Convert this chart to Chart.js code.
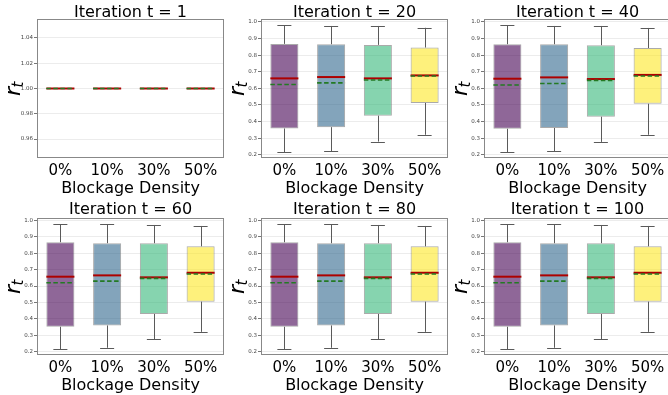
<!DOCTYPE html>
<html><head><meta charset="utf-8">
<script src="https://cdn.jsdelivr.net/npm/chart.js@4.4.1/dist/chart.umd.min.js"></script>
<style>
html,body{margin:0;padding:0;background:#fff;overflow:hidden;width:668px;height:395px;position:relative;}
canvas.cv{position:absolute;}
</style></head><body>
<script>
// ---------- data ----------
const categories = ['0%', '10%', '30%', '50%'];
const iterations = [1, 20, 40, 60, 80, 100];
const xAxisLabel = 'Blockage Density';
// one row per iteration panel, one value per blockage density
const whiskerLow = [
  [1, 1, 1, 1],
  [0.214, 0.222, 0.279, 0.320],
  [0.214, 0.222, 0.277, 0.320],
  [0.215, 0.224, 0.275, 0.321],
  [0.215, 0.224, 0.275, 0.321],
  [0.215, 0.224, 0.275, 0.321]
];
const q1 = [
  [1, 1, 1, 1],
  [0.358, 0.366, 0.435, 0.512],
  [0.356, 0.361, 0.429, 0.507],
  [0.352, 0.360, 0.430, 0.505],
  [0.352, 0.360, 0.430, 0.505],
  [0.352, 0.360, 0.430, 0.505]
];
const median = [
  [1, 1, 1, 1],
  [0.660, 0.668, 0.660, 0.678],
  [0.658, 0.666, 0.656, 0.681],
  [0.657, 0.665, 0.653, 0.681],
  [0.657, 0.665, 0.653, 0.681],
  [0.657, 0.665, 0.653, 0.681]
];
const mean = [
  [1, 1, 1, 1],
  [0.623, 0.633, 0.650, 0.674],
  [0.620, 0.629, 0.648, 0.674],
  [0.620, 0.630, 0.647, 0.673],
  [0.620, 0.630, 0.647, 0.673],
  [0.620, 0.630, 0.647, 0.673]
];
const q3 = [
  [1, 1, 1, 1],
  [0.868, 0.866, 0.862, 0.846],
  [0.866, 0.866, 0.860, 0.843],
  [0.867, 0.861, 0.861, 0.842],
  [0.867, 0.861, 0.861, 0.842],
  [0.867, 0.861, 0.861, 0.842]
];
const whiskerHigh = [
  [1, 1, 1, 1],
  [0.980, 0.976, 0.976, 0.965],
  [0.980, 0.976, 0.976, 0.964],
  [0.976, 0.976, 0.972, 0.966],
  [0.976, 0.976, 0.972, 0.966],
  [0.976, 0.976, 0.972, 0.966]
];
const yTicksFirst = [0.96, 0.98, 1.00, 1.02, 1.04];
const yTicksOther = [0.2, 0.3, 0.4, 0.5, 0.6, 0.7, 0.8, 0.9, 1.0];
const yMin = [0.945, 0.18, 0.18, 0.18, 0.18, 0.18];
const yMax = [1.055, 1.018, 1.018, 1.0145, 1.0145, 1.0145];

// ---------- styles / layout ----------
const boxFill = ['rgba(68,1,84,0.6)', 'rgba(49,104,142,0.6)', 'rgba(53,183,121,0.6)', 'rgba(253,231,37,0.6)'];
const FONT = 'DejaVu Sans';
Chart.defaults.font.family = FONT;
const plotL = [37, 261, 484];
const plotW = 187;
const plotT = [19, 218];
const plotB = [158, 355];
const titleBase = [2.3, 4];   // title baseline offset above plot top, per row
const EXT = 37, TITLE_H = 19, XAX_H = 40;

const boxPlugin = {
  id: 'boxdraw',
  afterDatasetsDraw(chart) {
    const p = chart.options.plugins.boxdraw.panel;
    const ctx = chart.ctx, ys = chart.scales.y;
    const meta = chart.getDatasetMeta(0);
    ctx.save();
    meta.data.forEach((bar, i) => {
      const x = bar.x, w = bar.width;
      const yH = ys.getPixelForValue(whiskerHigh[p][i]);
      const yL = ys.getPixelForValue(whiskerLow[p][i]);
      const y3 = ys.getPixelForValue(q3[p][i]);
      const y1 = ys.getPixelForValue(q1[p][i]);
      const xc = Math.round(x) + 0.5;
      ctx.strokeStyle = '#5a5a5a';
      ctx.lineWidth = 1;
      ctx.setLineDash([]);
      ctx.beginPath();
      if (yH < y3) { ctx.moveTo(xc, y3); ctx.lineTo(xc, yH); ctx.moveTo(x - w / 4, Math.round(yH) + 0.5); ctx.lineTo(x + w / 4, Math.round(yH) + 0.5); }
      if (yL > y1) { ctx.moveTo(xc, y1); ctx.lineTo(xc, yL); ctx.moveTo(x - w / 4, Math.round(yL) + 0.5); ctx.lineTo(x + w / 4, Math.round(yL) + 0.5); }
      ctx.stroke();
      const ym = ys.getPixelForValue(median[p][i]);
      ctx.strokeStyle = '#ad0000';
      ctx.lineWidth = 2;
      ctx.beginPath(); ctx.moveTo(x - w / 2, ym); ctx.lineTo(x + w / 2, ym); ctx.stroke();
      const ya = ys.getPixelForValue(mean[p][i]);
      ctx.strokeStyle = '#237a23';
      ctx.lineWidth = 1.6;
      ctx.setLineDash([4.5, 2.5]);
      ctx.beginPath(); ctx.moveTo(x - w / 2, ya); ctx.lineTo(x + w / 2, ya); ctx.stroke();
    });
    ctx.restore();
  },
  afterDraw(chart) {
    const p = chart.options.plugins.boxdraw.panel;
    const row = Math.floor(p / 3);
    const ctx = chart.ctx, a = chart.chartArea;
    ctx.save();
    ctx.strokeStyle = '#888';
    ctx.lineWidth = 1;
    ctx.strokeRect(Math.round(a.left) + 0.5, Math.round(a.top) + 0.5, Math.round(a.right - a.left) - 1, Math.round(a.bottom - a.top) - 1);
    const cx = (a.left + a.right) / 2;
    ctx.fillStyle = '#000';
    ctx.textAlign = 'center';
    ctx.textBaseline = 'alphabetic';
    // panel title
    ctx.font = '16px "' + FONT + '"';
    ctx.fillText('Iteration t = ' + iterations[p], cx, a.top - titleBase[row]);
    // x axis label
    ctx.fillText(xAxisLabel, cx, a.bottom + 34.7);
    // y axis label r_t
    const cy = (a.top + a.bottom) / 2;
    ctx.translate(19.5, cy);
    ctx.rotate(-Math.PI / 2);
    ctx.font = 'italic 22px "' + FONT + '"';
    const wr = ctx.measureText('r').width;
    ctx.font = 'italic 15px "' + FONT + '"';
    const wt = ctx.measureText('t').width;
    const start = -(wr + wt) / 2;
    ctx.textAlign = 'left';
    ctx.font = 'italic 22px "' + FONT + '"';
    ctx.fillText('r', start, 0);
    ctx.font = 'italic 15px "' + FONT + '"';
    ctx.fillText('t', start + wr - 0.5, 3.5);
    ctx.restore();
  }
};

iterations.forEach((it, p) => {
  const row = Math.floor(p / 3), col = p % 3;
  const cv = document.createElement('canvas');
  cv.className = 'cv';
  const h = (plotB[row] - plotT[row]) + TITLE_H + XAX_H;
  const w = plotW + 2 * EXT;
  cv.width = w; cv.height = h;
  cv.style.width = w + 'px'; cv.style.height = h + 'px';
  cv.style.left = (plotL[col] - EXT) + 'px';
  cv.style.top = (plotT[row] - TITLE_H) + 'px';
  document.body.appendChild(cv);
  const ticks = p === 0 ? yTicksFirst : yTicksOther;
  new Chart(cv.getContext('2d'), {
    type: 'bar',
    data: {
      labels: categories,
      datasets: [{
        data: categories.map((c, i) => [q1[p][i], q3[p][i]]),
        backgroundColor: boxFill,
        borderColor: 'rgba(100,100,100,0.55)',
        borderWidth: 1,
        borderSkipped: false,
        barPercentage: 0.6,
        categoryPercentage: 1
      }]
    },
    options: {
      responsive: false,
      animation: false,
      devicePixelRatio: 1,
      events: [],
      layout: { padding: { left: 0, right: EXT, top: TITLE_H, bottom: 0 } },
      plugins: {
        legend: { display: false },
        tooltip: { enabled: false },
        title: { display: false },
        boxdraw: { panel: p }
      },
      scales: {
        x: {
          grid: { display: false, drawTicks: false },
          border: { display: false },
          ticks: { color: '#000', font: { family: FONT, size: 15 }, padding: 4, maxRotation: 0, autoSkip: false },
          title: { display: false },
          afterFit(s) { s.height = XAX_H; }
        },
        y: {
          min: yMin[p], max: yMax[p],
          grid: { color: '#ececec', tickColor: '#777', tickLength: 3, drawTicks: true, lineWidth: 1 },
          border: { display: false },
          ticks: {
            color: '#444', font: { family: FONT, size: 5.5 }, padding: 1,
            callback: v => p === 0 ? Number(v).toFixed(2) : Number(v).toFixed(1)
          },
          afterBuildTicks(s) { s.ticks = ticks.map(v => ({ value: v })); },
          afterFit(s) { s.width = EXT; }
        }
      }
    },
    plugins: [boxPlugin]
  });
});
</script>
</body></html>
